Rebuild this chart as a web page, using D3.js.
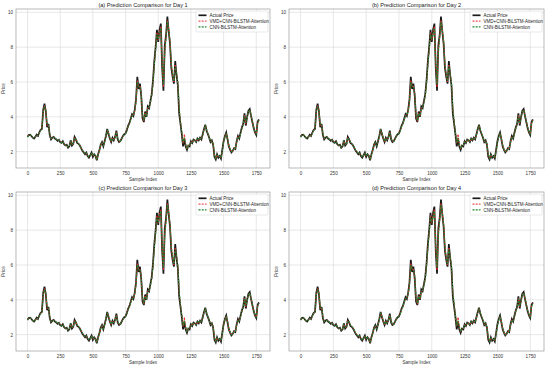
<!DOCTYPE html>
<html>
<head>
<meta charset="utf-8">
<script src="https://cdn.jsdelivr.net/npm/d3@7"></script>
<style>
html,body{margin:0;padding:0;background:#fff;}
svg{display:block;font-family:"Liberation Sans",Arial,sans-serif;}
</style>
</head>
<body>
<svg id="chart" width="550" height="366"></svg>
<script>
const sampleStep = 10;
const actualPrice = [2.85,2.95,2.97,2.90,2.80,2.75,2.85,2.98,2.90,3.10,
 3.25,3.30,4.40,4.75,4.30,3.40,3.60,2.95,2.70,2.80,
 2.85,2.75,2.70,2.62,2.68,2.55,2.50,2.60,2.42,2.35,
 2.40,2.22,2.30,2.65,2.35,2.45,2.85,2.70,2.50,2.45,
 2.35,2.20,2.05,1.95,1.85,1.95,1.75,1.65,1.80,1.95,
 1.70,1.85,1.75,1.50,1.85,2.10,2.40,2.55,2.30,2.60,
 2.90,3.30,3.00,2.75,2.55,2.80,2.65,2.85,3.20,2.70,
 2.55,2.60,2.75,2.90,3.00,3.05,3.25,3.50,3.65,3.90,
 4.15,4.05,4.40,5.00,6.30,5.60,5.90,5.20,3.90,3.70,
 4.30,4.00,4.60,4.50,4.90,5.30,6.10,7.20,8.00,9.00,
 8.30,9.00,9.35,6.80,5.50,8.10,8.70,9.75,8.90,8.20,
 6.80,6.30,5.90,7.20,6.40,5.80,4.20,3.60,3.00,2.30,
 2.70,2.30,2.10,2.35,2.30,2.60,2.50,2.70,2.65,2.55,
 2.75,2.65,2.80,2.70,3.00,3.30,3.55,3.20,3.00,2.80,
 2.55,2.65,2.40,1.70,1.55,1.85,1.65,1.75,1.60,2.10,
 2.60,2.90,3.10,2.70,2.30,2.10,1.95,2.05,2.20,2.15,
 2.60,2.90,2.75,3.10,3.40,3.60,4.20,3.50,4.00,4.35,
 4.45,4.05,3.70,3.35,3.10,2.95,3.70,3.85];
const vmdPred = [2.88,2.93,2.95,2.92,2.82,2.77,2.83,2.95,2.92,3.07,
 3.22,3.33,4.30,4.65,4.35,3.50,3.55,3.00,2.74,2.78,
 2.83,2.77,2.72,2.64,2.66,2.57,2.52,2.58,2.45,2.37,
 2.38,2.25,2.32,2.60,2.40,2.43,2.80,2.72,2.53,2.47,
 2.37,2.22,2.08,1.97,1.88,1.93,1.78,1.68,1.78,1.92,
 1.74,1.83,1.77,1.55,1.82,2.07,2.36,2.52,2.33,2.57,
 2.86,3.25,3.05,2.78,2.58,2.77,2.68,2.83,3.15,2.75,
 2.58,2.60,2.73,2.88,2.98,3.07,3.22,3.46,3.62,3.86,
 4.10,4.08,4.35,4.90,6.10,5.70,5.80,5.30,4.00,3.75,
 4.25,4.05,4.55,4.52,4.85,5.25,6.00,7.05,7.90,8.85,
 8.40,8.90,9.20,7.00,5.70,7.90,8.60,9.55,9.00,8.30,
 6.95,6.40,6.00,7.00,6.50,5.90,4.40,3.70,3.10,2.45,
 3.00,2.40,2.15,2.33,2.32,2.57,2.52,2.68,2.66,2.57,
 2.73,2.67,2.78,2.72,2.96,3.26,3.50,3.25,3.03,2.83,
 2.58,2.63,2.45,1.80,1.60,1.82,1.68,1.73,1.63,2.05,
 2.55,2.86,3.05,2.75,2.35,2.13,1.98,2.03,2.18,2.17,
 2.55,2.86,2.78,3.05,3.36,3.57,4.10,3.60,3.95,4.30,
 4.40,4.08,3.73,3.38,3.12,3.00,3.65,3.80];
const cnnPred = [2.83,2.92,2.96,2.93,2.83,2.76,2.82,2.94,2.93,3.06,
 3.20,3.30,4.25,4.60,4.38,3.55,3.52,3.05,2.76,2.77,
 2.82,2.78,2.71,2.65,2.65,2.58,2.51,2.57,2.46,2.38,
 2.37,2.26,2.31,2.58,2.42,2.42,2.78,2.73,2.55,2.46,
 2.38,2.23,2.09,1.98,1.89,1.92,1.79,1.69,1.77,1.90,
 1.76,1.82,1.78,1.58,1.80,2.05,2.34,2.50,2.35,2.55,
 2.84,3.22,3.08,2.80,2.60,2.76,2.69,2.82,3.12,2.78,
 2.60,2.59,2.72,2.87,2.97,3.06,3.20,3.44,3.60,3.84,
 4.08,4.10,4.32,4.85,6.00,5.75,5.75,5.35,4.10,3.80,
 4.20,4.08,4.50,4.55,4.80,5.20,5.90,6.95,7.80,8.75,
 8.45,8.80,9.10,7.20,5.85,7.70,8.50,9.45,9.05,8.40,
 7.10,6.45,6.05,6.90,6.55,5.95,4.55,3.75,3.15,2.50,
 2.80,2.45,2.18,2.32,2.33,2.55,2.53,2.66,2.67,2.58,
 2.72,2.68,2.77,2.73,2.94,3.24,3.47,3.28,3.05,2.85,
 2.60,2.62,2.47,1.85,1.62,1.80,1.70,1.72,1.65,2.02,
 2.52,2.84,3.02,2.78,2.38,2.15,2.00,2.02,2.17,2.18,
 2.52,2.84,2.80,3.02,3.33,3.55,4.05,3.65,3.92,4.28,
 4.38,4.10,3.76,3.40,3.14,3.02,3.62,3.78];
const panelTitles = ["(a) Prediction Comparison for Day 1","(b) Prediction Comparison for Day 2",
  "(c) Prediction Comparison for Day 3","(d) Prediction Comparison for Day 4"];
const seriesNames = ["Actual Price","VMD+CNN-BiLSTM-Attention","CNN-BiLSTM-Attention"];
const xTicks = [0,250,500,750,1000,1250,1500,1750];
const yTicks = [2,4,6,8,10];
const xLabel = "Sample Index";
const yLabel = "Price";

// ---- layout ----
const panels = [
  {x:16, y:9,   w:254, h:159},
  {x:289,y:9,   w:255, h:159},
  {x:16, y:192, w:254, h:159},
  {x:289,y:192, w:255, h:159}
];
const seriesStyle = [
  {data:actualPrice, color:"#1a1a1a", width:1.7, dash:null},
  {data:vmdPred, color:"#e8262a", width:1.0, dash:"2,1.2"},
  {data:cnnPred, color:"#23862f", width:1.1, dash:"2,1.2"}
];

const svg = d3.select("#chart");

panels.forEach((p, k) => {
  const g = svg.append("g").attr("transform", `translate(${p.x},${p.y})`);
  const x = d3.scaleLinear().domain([-88, 1855]).range([0, p.w]);
  const y = d3.scaleLinear().domain([1.06, 10.19]).range([p.h, 0]);

  // grid
  g.append("g").selectAll("line").data(xTicks).join("line")
    .attr("x1", d => x(d)).attr("x2", d => x(d)).attr("y1", 0).attr("y2", p.h)
    .attr("stroke", "#d6d6d6").attr("stroke-width", 0.6);
  g.append("g").selectAll("line").data(yTicks).join("line")
    .attr("y1", d => y(d)).attr("y2", d => y(d)).attr("x1", 0).attr("x2", p.w)
    .attr("stroke", "#d6d6d6").attr("stroke-width", 0.6);

  // axes (labels only)
  const xa = g.append("g").attr("transform", `translate(0,${p.h})`)
    .call(d3.axisBottom(x).tickValues(xTicks).tickSize(0).tickPadding(4).tickFormat(d3.format("d")));
  const ya = g.append("g")
    .call(d3.axisLeft(y).tickValues(yTicks).tickSize(0).tickPadding(3).tickFormat(d3.format("d")));
  [xa, ya].forEach(a => {
    a.select(".domain").remove();
    a.selectAll("text").attr("font-size", 4.6).attr("fill", "#333")
      .attr("font-family", "'Liberation Sans',Arial,sans-serif");
  });

  // lines
  const line = d3.line().x((d, i) => x(i * sampleStep)).y(d => y(d));
  seriesStyle.forEach(s => {
    g.append("path").datum(s.data).attr("d", line)
      .attr("fill", "none").attr("stroke", s.color).attr("stroke-width", s.width)
      .attr("stroke-dasharray", s.dash).attr("stroke-linejoin", "miter");
  });

  // frame
  g.append("rect").attr("width", p.w).attr("height", p.h)
    .attr("fill", "none").attr("stroke", "#9a9a9a").attr("stroke-width", 0.7);

  // title and axis labels
  g.append("text").attr("x", p.w / 2).attr("y", -2.4).attr("text-anchor", "middle")
    .attr("font-size", 5.6).attr("fill", "#222").text(panelTitles[k]);
  g.append("text").attr("x", p.w / 2).attr("y", p.h + 12.5).attr("text-anchor", "middle")
    .attr("font-size", 4.6).attr("fill", "#333").text(xLabel);
  g.append("text").attr("transform", `translate(${-11},${p.h / 2}) rotate(-90)`)
    .attr("text-anchor", "middle").attr("font-size", 4.6).attr("fill", "#333").text(yLabel);

  // legend
  const lw = 72, lh = 21;
  const lg = g.append("g").attr("transform", `translate(${p.w - lw - 2},${2})`);
  lg.append("rect").attr("width", lw).attr("height", lh).attr("rx", 1)
    .attr("fill", "#fff").attr("fill-opacity", 0.85).attr("stroke", "#d0d0d0").attr("stroke-width", 0.5);
  seriesNames.forEach((n, i) => {
    const yy = 4.3 + i * 5.8;
    lg.append("line").attr("x1", 2.5).attr("x2", 10.5).attr("y1", yy).attr("y2", yy)
      .attr("stroke", seriesStyle[i].color).attr("stroke-width", seriesStyle[i].width)
      .attr("stroke-dasharray", seriesStyle[i].dash);
    lg.append("text").attr("x", 13.5).attr("y", yy + 1.6).attr("font-size", 4.5)
      .attr("fill", "#222").text(n);
  });
});
</script>
</body>
</html>
